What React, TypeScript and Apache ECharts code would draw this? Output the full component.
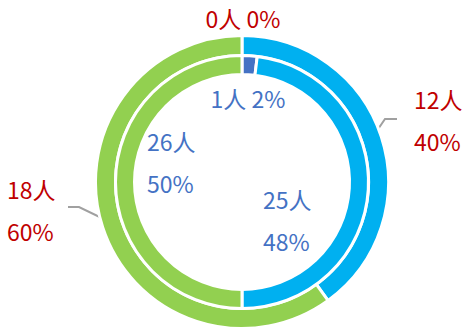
import React, { useEffect, useRef } from "react";
import * as echarts from "echarts";

const categories = ["类别一", "类别二", "类别三"];
const outerValues = [0, 12, 18];
const innerValues = [1, 25, 26];
const colors = ["#4472C4", "#00B0F0", "#92D050"];

const FONT = "'Noto Sans CJK SC', 'Noto Sans', sans-serif";

const outerLayouts: any[] = [
  { x: 243, y: 18, align: "center", verticalAlign: "middle" },
  {
    x: 414, y: 120, align: "left", verticalAlign: "middle",
    labelLinePoints: [[372, 138], [385, 119], [397, 119]],
  },
  {
    x: 7, y: 210, align: "left", verticalAlign: "middle",
    labelLinePoints: [[110, 222], [79, 207], [68, 207]],
  },
];

const innerLayouts: any[] = [
  { x: 248, y: 98, align: "center", verticalAlign: "middle" },
  { x: 263, y: 220, align: "left", verticalAlign: "middle" },
  { x: 147, y: 162, align: "left", verticalAlign: "middle" },
];

export default function App() {
  const ref = useRef<HTMLDivElement>(null);
  useEffect(() => {
    if (!ref.current) return;
    const chart = echarts.init(ref.current, undefined, { renderer: "svg" });
    const mk = (vals: number[]) =>
      vals.map((v, i) => ({
        name: categories[i],
        value: v,
        itemStyle: { color: colors[i] },
      }));
    chart.setOption({
      animation: false,
      series: [
        {
          type: "pie",
          center: [242, 182],
          radius: [126.5, 146.5],
          startAngle: 90,
          avoidLabelOverlap: false,
          percentPrecision: 0,
          silent: true,
          itemStyle: { borderColor: "#ffffff", borderWidth: 3 },
          data: mk(outerValues),
          label: {
            show: true,
            position: "outside",
            color: "#C00000",
            fontSize: 23,
            fontFamily: FONT,
            lineHeight: 42,
            formatter: (p: any) =>
              p.dataIndex === 0 ? `${p.value}人 ${p.percent}%` : `${p.value}人\n${p.percent}%`,
          },
          labelLine: {
            show: true,
            lineStyle: { color: "#A0A0A0", width: 2 },
          },
          labelLayout: (p: any) => outerLayouts[p.dataIndex],
        },
        {
          type: "pie",
          center: [242, 182],
          radius: [107.5, 126.5],
          startAngle: 90,
          avoidLabelOverlap: false,
          percentPrecision: 0,
          silent: true,
          itemStyle: { borderColor: "#ffffff", borderWidth: 3 },
          data: mk(innerValues),
          label: {
            show: true,
            position: "inside",
            color: "#4472C4",
            fontSize: 23,
            fontFamily: FONT,
            lineHeight: 42,
            formatter: (p: any) =>
              p.dataIndex === 0 ? `${p.value}人 ${p.percent}%` : `${p.value}人\n${p.percent}%`,
          },
          labelLine: { show: false },
          labelLayout: (p: any) => innerLayouts[p.dataIndex],
        },
      ],
    });
    return () => chart.dispose();
  }, []);
  return (
    <div
      ref={ref}
      style={{ position: "fixed", left: 0, top: 0, width: 467, height: 329, background: "#fff" }}
    />
  );
}
